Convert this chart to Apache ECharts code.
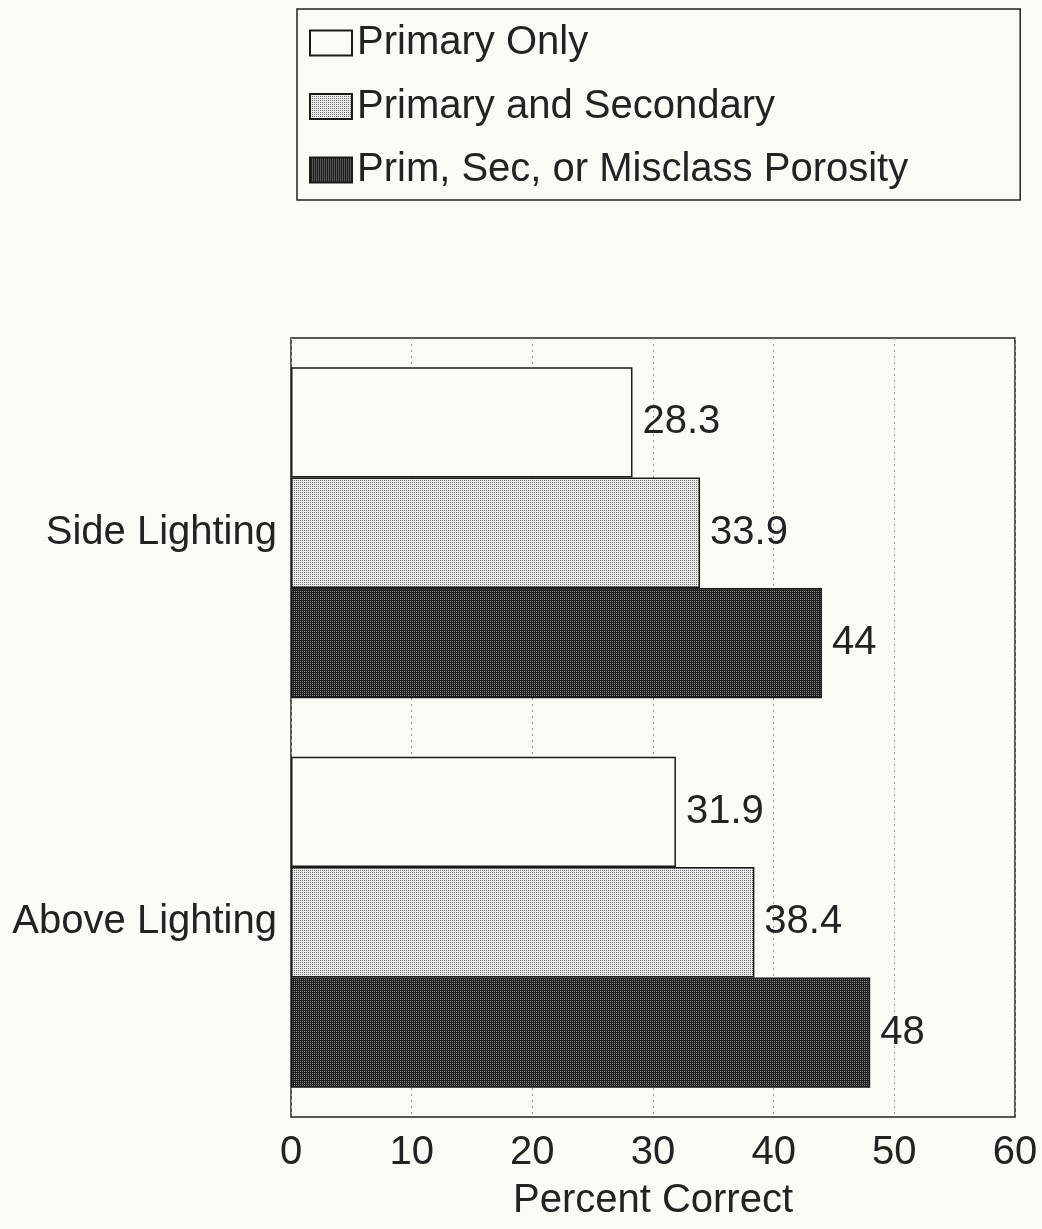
<!DOCTYPE html>
<html>
<head>
<meta charset="utf-8">
<script src="https://cdn.jsdelivr.net/npm/echarts@6/dist/echarts.min.js"></script>
<style>
html,body{margin:0;padding:0;background:#fbfbf5;}
#chart{width:1042px;height:1229px;}
</style>
</head>
<body>
<div id="chart"></div>
<script>
const categories = ['Side Lighting', 'Above Lighting'];
const seriesNames = ['Primary Only', 'Primary and Secondary', 'Prim, Sec, or Misclass Porosity'];
const primaryOnly = [28.3, 31.9];
const primaryAndSecondary = [33.9, 38.4];
const primSecMisclass = [44, 48];
const xTicks = [0, 10, 20, 30, 40, 50, 60];

function makePattern(a, b, darkCount) {
  const c = document.createElement('canvas');
  c.width = 2; c.height = 2;
  const ctx = c.getContext('2d');
  ctx.fillStyle = a; ctx.fillRect(0, 0, 2, 2);
  ctx.fillStyle = b;
  if (darkCount === 1) { ctx.fillRect(0, 0, 1, 1); }
  else { ctx.fillRect(0, 0, 1, 1); ctx.fillRect(1, 1, 1, 1); ctx.fillRect(1, 0, 1, 1); }
  return { image: c, repeat: 'repeat' };
}
const lightPat = makePattern('#ececec', '#6e6e6e', 1);
const darkPat = makePattern('#8a8a8a', '#1e1e1e', 3);

const FONT = '"Liberation Sans", Arial, Helvetica, sans-serif';
const chart = echarts.init(document.getElementById('chart'));
const labelCfg = { show: true, position: 'right', distance: 10, fontSize: 40, color: '#222', fontFamily: FONT };
const barBorder = { borderColor: '#1a1a1a', borderWidth: 1.5 };

chart.setOption({
  backgroundColor: '#fbfbf5',
  animation: false,
  textStyle: { fontFamily: FONT },
  legend: {
    orient: 'vertical',
    left: 297,
    top: 9,
    padding: [14, 112, 10, 12],
    itemGap: 23.5,
    itemWidth: 42,
    itemHeight: 25,
    borderColor: '#222',
    borderWidth: 1.5,
    icon: 'rect',
    textStyle: { fontSize: 40, color: '#222', fontFamily: FONT },
    data: seriesNames
  },
  grid: {
    left: 291, right: 27, top: 338, bottom: 112,
    outerBoundsMode: 'none',
    containLabel: false,
    show: true, borderColor: '#222', borderWidth: 1.5, backgroundColor: 'transparent'
  },
  xAxis: {
    type: 'value', min: xTicks[0], max: xTicks[xTicks.length - 1], interval: 10,
    name: 'Percent Correct', nameLocation: 'middle', nameGap: 64,
    nameTextStyle: { fontSize: 40, color: '#222', fontFamily: FONT },
    axisLine: { show: false }, axisTick: { show: false },
    axisLabel: { fontSize: 40, color: '#222', margin: 16, fontFamily: FONT },
    splitLine: { show: true, lineStyle: { color: '#9a9a9a', type: [2, 4], width: 1 } }
  },
  yAxis: {
    type: 'category', data: categories, inverse: true,
    axisLine: { show: false }, axisTick: { show: false },
    axisLabel: { fontSize: 40, color: '#222', margin: 14, fontFamily: FONT },
    splitLine: { show: false }
  },
  series: [
    { name: seriesNames[0], type: 'bar', data: primaryOnly, barGap: '0%', barCategoryGap: '15%',
      itemStyle: Object.assign({ color: '#fcfcf7' }, barBorder), label: labelCfg },
    { name: seriesNames[1], type: 'bar', data: primaryAndSecondary, barGap: '0%', barCategoryGap: '15%',
      itemStyle: Object.assign({ color: lightPat }, barBorder), label: labelCfg },
    { name: seriesNames[2], type: 'bar', data: primSecMisclass, barGap: '0%', barCategoryGap: '15%',
      itemStyle: Object.assign({ color: darkPat }, barBorder), label: labelCfg }
  ]
});
</script>
</body>
</html>
